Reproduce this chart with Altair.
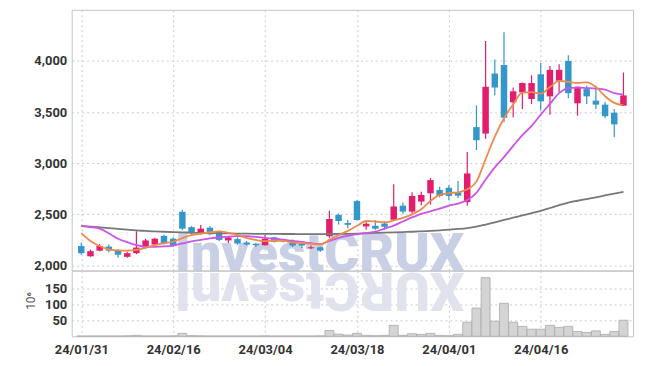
import altair as alt
import pandas as pd

dates = ["24/01/31",
         "24/02/01", "24/02/02", "24/02/05", "24/02/06", "24/02/07", "24/02/08", "24/02/13", "24/02/14", "24/02/15", "24/02/16",
         "24/02/19", "24/02/20", "24/02/21", "24/02/22", "24/02/23", "24/02/26", "24/02/27", "24/02/28", "24/02/29", "24/03/04",
         "24/03/05", "24/03/06", "24/03/07", "24/03/08", "24/03/11", "24/03/12", "24/03/13", "24/03/14", "24/03/15", "24/03/18",
         "24/03/19", "24/03/20", "24/03/21", "24/03/22", "24/03/25", "24/03/26", "24/03/27", "24/03/28", "24/03/29", "24/04/01",
         "24/04/02", "24/04/03", "24/04/04", "24/04/05", "24/04/08", "24/04/09", "24/04/11", "24/04/12", "24/04/15", "24/04/16",
         "24/04/17", "24/04/18", "24/04/19", "24/04/22", "24/04/23", "24/04/24", "24/04/25", "24/04/26", "24/04/29"]

opens = [2190, 2090, 2145, 2185, 2150, 2085, 2120, 2175, 2205, 2290,
         2262, 2525, 2375, 2310, 2370, 2330, 2245, 2258, 2225, 2212,
         2198, 2275, 2243, 2240, 2214, 2168, 2178, 2285, 2495, 2415,
         2630, 2382, 2388, 2410, 2447, 2585, 2527, 2625, 2706, 2738,
         2760, 2715, 2620, 3353, 3290, 3877, 3960, 3596, 3693, 3628,
         3870, 3654, 3806, 4000, 3586, 3725, 3612, 3573, 3494, 3563]
highs = [2225, 2155, 2210, 2205, 2160, 2135, 2335, 2260, 2270, 2300,
         2275, 2545, 2385, 2395, 2385, 2340, 2280, 2275, 2240, 2220,
         2300, 2280, 2260, 2255, 2235, 2195, 2185, 2535, 2510, 2445,
         2640, 2430, 2445, 2430, 2795, 2615, 2715, 2720, 2857, 2770,
         2785, 2825, 3110, 3565, 4195, 4015, 4280, 3740, 3790, 3860,
         3980, 3950, 3968, 4055, 3750, 3760, 3757, 3600, 3530, 3887]
lows = [2105, 2085, 2140, 2130, 2075, 2075, 2110, 2165, 2200, 2205,
        2180, 2345, 2300, 2300, 2295, 2240, 2220, 2200, 2195, 2180,
        2195, 2225, 2225, 2180, 2170, 2160, 2133, 2270, 2400, 2365,
        2440, 2350, 2350, 2350, 2440, 2505, 2505, 2590, 2595, 2665,
        2640, 2660, 2585, 3130, 3240, 3665, 3400, 3450, 3530, 3580,
        3515, 3475, 3693, 3635, 3465, 3580, 3530, 3440, 3255, 3560]
closes = [2120, 2140, 2190, 2145, 2105, 2120, 2175, 2245, 2262, 2215,
          2190, 2360, 2315, 2360, 2305, 2250, 2275, 2215, 2205, 2198,
          2262, 2230, 2235, 2195, 2195, 2178, 2146, 2455, 2435, 2398,
          2445, 2408, 2360, 2378, 2577, 2527, 2680, 2690, 2835, 2680,
          2680, 2683, 2900, 3225, 3748, 3740, 3445, 3703, 3784, 3784,
          3605, 3913, 3913, 3685, 3748, 3654, 3573, 3460, 3380, 3663]
volumes = [1, 1, 1, 1, 1, 1.5, 3, 1, 1, 1,
           1.5, 9, 2, 1.5, 1, 1, 1, 1, 1, 1,
           1.5, 1, 1, 1, 1, 1, 1.5, 18, 7, 4,
           9, 3, 2, 3, 34, 3, 8, 6, 9, 3,
           2, 6, 44, 88, 183, 47, 103, 44, 31, 22,
           22, 34, 28, 31, 15, 12, 17, 6, 15, 50]
ma5 = [2317, 2240, 2190, 2158, 2147, 2145, 2152, 2172, 2200, 2218,
       2232, 2268, 2296, 2311, 2325, 2333, 2320, 2300, 2268, 2250,
       2238, 2242, 2240, 2225, 2218, 2213, 2205, 2250, 2298, 2338,
       2388, 2435, 2430, 2422, 2440, 2465, 2500, 2550, 2630, 2690,
       2708, 2715, 2745, 2820, 3040, 3260, 3440, 3575, 3690, 3695,
       3680, 3745, 3805, 3795, 3785, 3790, 3745, 3655, 3590, 3565]
ma10 = [2385, 2375, 2360, 2315, 2262, 2228, 2198, 2183, 2182, 2186,
        2195, 2215, 2235, 2250, 2265, 2274, 2283, 2287, 2286, 2280,
        2270, 2262, 2252, 2240, 2230, 2218, 2208, 2240, 2270, 2290,
        2305, 2318, 2330, 2360, 2390, 2430, 2470, 2505, 2530, 2555,
        2585, 2605, 2640, 2710, 2840, 2960, 3060, 3170, 3275, 3365,
        3475, 3580, 3685, 3735, 3740, 3735, 3730, 3720, 3685, 3670]
ma60 = [2388, 2380, 2373, 2366, 2358, 2350, 2343, 2338, 2333, 2330,
        2327, 2324, 2321, 2318, 2316, 2315, 2313, 2312, 2311, 2310,
        2309, 2309, 2308, 2308, 2307, 2307, 2307, 2308, 2309, 2310,
        2312, 2315, 2318, 2321, 2324, 2327, 2330, 2334, 2338, 2343,
        2350, 2357, 2366, 2380, 2400, 2422, 2445, 2467, 2490, 2512,
        2535, 2562, 2590, 2615, 2633, 2650, 2667, 2685, 2703, 2720]

tick_idx = [0, 10, 20, 30, 40, 50]
price_ticks = [2000, 2500, 3000, 3500, 4000]
vol_ticks = [50, 100, 150]
watermark = "InvestCRUX"

UP = "#e31c6b"
DOWN = "#3497c9"
GRID = "#c6cadc"
FONT = "Roboto"
LABEL_W = "bold"

n = len(dates)
df = pd.DataFrame({
    "i": list(range(n)), "date": dates, "open": opens, "high": highs,
    "low": lows, "close": closes, "vol": volumes,
    "ma5": ma5, "ma10": ma10, "ma60": ma60,
})
df["dir"] = ["up" if c >= o else "down" for o, c in zip(opens, closes)]

label_expr = ""
for k in tick_idx:
    label_expr += f"datum.value == {k} ? '{dates[k]}' : "
label_expr += "''"

xscale = alt.Scale(domain=[-0.5, n - 0.5], nice=False, zero=False)
yscale = alt.Scale(domain=[1950, 4500], nice=False, zero=False)
vscale = alt.Scale(domain=[0, 205], nice=False)

x_price = alt.X("i:Q", scale=xscale, title=None,
                axis=alt.Axis(values=tick_idx, labels=False, ticks=False, domain=False,
                              grid=True, gridColor=GRID, gridDash=[2, 3]))
y_price_axis = alt.Axis(values=price_ticks, format=",d", ticks=False, domain=False,
                        grid=True, gridColor=GRID, gridDash=[2, 3], labelPadding=5,
                        labelFont=FONT, labelFontSize=13, labelFontWeight=LABEL_W, labelColor="#333")

base = alt.Chart(df)

wm = alt.Chart(pd.DataFrame({"t": [watermark]})).mark_text(
    font=FONT, fontWeight=900, fontSize=54, color="#c9cfe5",
    align="center", baseline="alphabetic"
).encode(x=alt.value(249), y=alt.value(262), text="t:N")

color = alt.Color("dir:N", scale=alt.Scale(domain=["up", "down"], range=[UP, DOWN]), legend=None)

wick = base.mark_rule(strokeWidth=1.2).encode(
    x=x_price,
    y=alt.Y("low:Q", scale=yscale, axis=y_price_axis, title=None),
    y2="high:Q",
    color=color,
)
body = base.mark_bar(size=6.5).encode(
    x="i:Q", y="open:Q", y2="close:Q", color=color,
)
l60 = base.mark_line(strokeWidth=1.8, color="#777777", interpolate="monotone").encode(x="i:Q", y="ma60:Q")
l10 = base.mark_line(strokeWidth=1.8, color="#cc55e6", interpolate="monotone").encode(x="i:Q", y="ma10:Q")
l5 = base.mark_line(strokeWidth=1.8, color="#f08a4c", interpolate="monotone").encode(x="i:Q", y="ma5:Q")

price = alt.layer(wm, wick, body, l60, l10, l5).properties(width=564, height=262)

wm_ref = alt.Chart(pd.DataFrame({"t": [watermark[::-1]]})).mark_text(
    font=FONT, fontWeight=900, fontSize=54, color="#e0e3ee",
    align="center", baseline="alphabetic", angle=180
).encode(x=alt.value(249), y=alt.value(2), text="t:N")

vbars = base.mark_bar(size=9, fill="#d4d4d4", stroke="#aaaaaa", strokeWidth=0.8).encode(
    x=alt.X("i:Q", scale=xscale, title=None,
            axis=alt.Axis(values=tick_idx, labelExpr=label_expr, ticks=False, domain=False,
                          grid=True, gridColor=GRID, gridDash=[2, 3], labelPadding=7,
                          labelFont=FONT, labelFontSize=13, labelFontWeight=LABEL_W, labelColor="#333")),
    y=alt.Y("vol:Q", scale=vscale,
            axis=alt.Axis(values=vol_ticks, ticks=False, domain=False, grid=True,
                          gridColor=GRID, gridDash=[2, 3], labelPadding=5,
                          labelFont=FONT, labelFontSize=13, labelFontWeight=LABEL_W, labelColor="#333",
                          title="10⁶", titleAngle=270, titleX=-41, titleY=30,
                          titleAlign="center", titleBaseline="middle",
                          titleFont=FONT, titleFontSize=12, titleFontWeight="normal",
                          titleColor="#555")),
)
volume = alt.layer(wm_ref, vbars).properties(width=564, height=66)

chart = alt.vconcat(price, volume, spacing=0, bounds="flush").properties(
    padding={"left": 16, "top": 0, "right": 5, "bottom": 5}
).configure_view(stroke="#c4c4c4")

chart.save("out.html", embed_options={"renderer": "svg", "actions": False})
